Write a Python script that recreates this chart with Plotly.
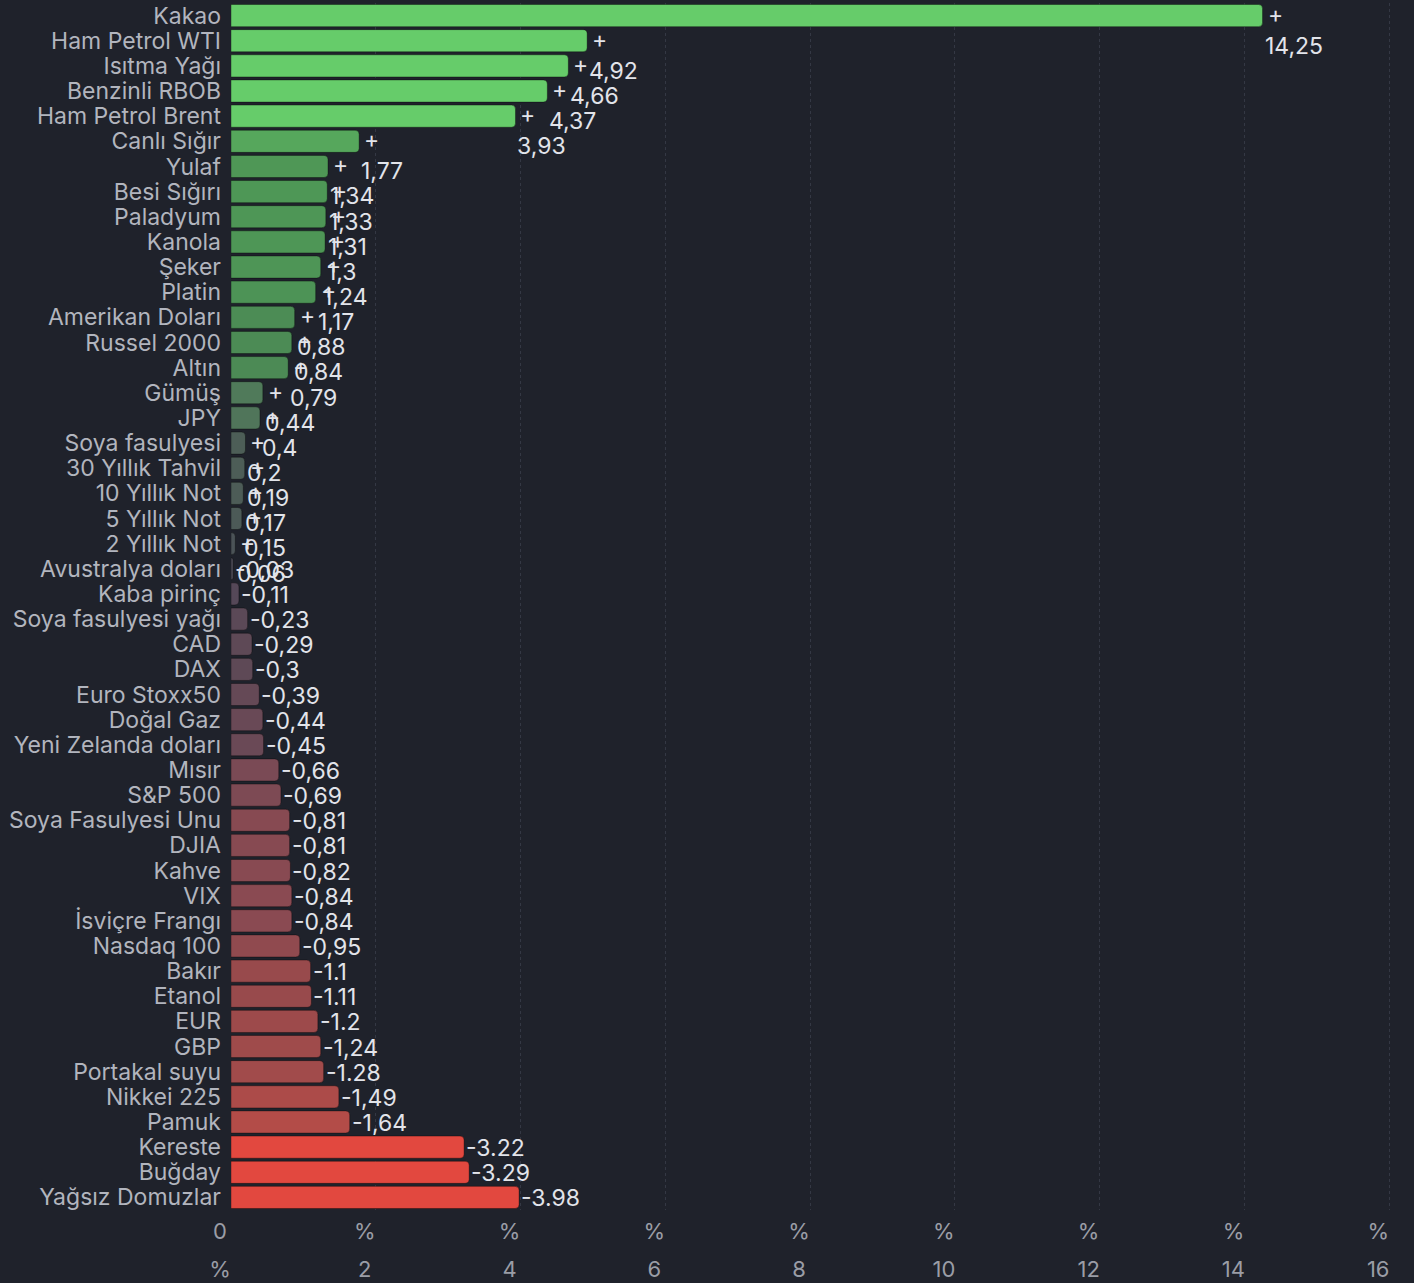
import plotly.graph_objects as go

# categories top to bottom
names = [
    "Kakao", "Ham Petrol WTI", "Isıtma Yağı", "Benzinli RBOB", "Ham Petrol Brent",
    "Canlı Sığır", "Yulaf", "Besi Sığırı", "Paladyum", "Kanola", "Şeker", "Platin",
    "Amerikan Doları", "Russel 2000", "Altın", "Gümüş", "JPY", "Soya fasulyesi",
    "30 Yıllık Tahvil", "10 Yıllık Not", "5 Yıllık Not", "2 Yıllık Not",
    "Avustralya doları", "Kaba pirinç", "Soya fasulyesi yağı", "CAD", "DAX",
    "Euro Stoxx50", "Doğal Gaz", "Yeni Zelanda doları", "Mısır", "S&P 500",
    "Soya Fasulyesi Unu", "DJIA", "Kahve", "VIX", "İsviçre Frangı", "Nasdaq 100",
    "Bakır", "Etanol", "EUR", "GBP", "Portakal suyu", "Nikkei 225", "Pamuk",
    "Kereste", "Buğday", "Yağsız Domuzlar",
]
changes = [
    14.25, 4.92, 4.66, 4.37, 3.93, 1.77, 1.34, 1.33, 1.31, 1.3, 1.24, 1.17,
    0.88, 0.84, 0.79, 0.44, 0.4, 0.2, 0.19, 0.17, 0.15, 0.06,
    -0.03, -0.11, -0.23, -0.29, -0.3, -0.39, -0.44, -0.45, -0.66, -0.69,
    -0.81, -0.81, -0.82, -0.84, -0.84, -0.95, -1.1, -1.11, -1.2, -1.24,
    -1.28, -1.49, -1.64, -3.22, -3.29, -3.98,
]
value_labels = [
    "14,25", "4,92", "4,66", "4,37", "3,93", "1,77", "1,34", "1,33", "1,31", "1,3",
    "1,24", "1,17", "0,88", "0,84", "0,79", "0,44", "0,4", "0,2", "0,19", "0,17",
    "0,15", "0,06",
    "-0,03", "-0,11", "-0,23", "-0,29", "-0,3", "-0,39", "-0,44", "-0,45", "-0,66",
    "-0,69", "-0,81", "-0,81", "-0,82", "-0,84", "-0,84", "-0,95", "-1.1", "-1.11",
    "-1.2", "-1,24", "-1.28", "-1,49", "-1,64", "-3.22", "-3.29", "-3.98",
]
tick_vals = [0, 2, 4, 6, 8, 10, 12, 14, 16]
tick_top = ["0", "%", "%", "%", "%", "%", "%", "%", "%"]
tick_bottom = ["%", "2", "4", "6", "8", "10", "12", "14", "16"]

BG = "#1f222b"
GREEN_STOPS = [(0, (74, 78, 87)), (0.2, (77, 94, 87)), (0.44, (80, 122, 90)),
               (0.8, (76, 138, 85)), (1.3, (78, 150, 86)), (1.8, (86, 168, 92)),
               (3.0, (102, 204, 106))]
RED_STOPS = [(0, (74, 78, 87)), (0.11, (85, 72, 88)), (0.3, (94, 73, 86)),
             (0.66, (122, 74, 85)), (0.84, (138, 74, 82)), (1.1, (152, 74, 76)),
             (1.64, (179, 76, 72)), (3.0, (226, 72, 63))]


def bar_color(v):
    stops = GREEN_STOPS if v >= 0 else RED_STOPS
    a = abs(v)
    if a >= stops[-1][0]:
        c = stops[-1][1]
    else:
        for (x0, c0), (x1, c1) in zip(stops, stops[1:]):
            if x0 <= a <= x1:
                t = (a - x0) / (x1 - x0)
                c = tuple(round(p + (q - p) * t) for p, q in zip(c0, c1))
                break
    return "rgb(%d,%d,%d)" % c


fig = go.Figure()
fig.add_trace(go.Bar(
    x=[abs(v) for v in changes], y=names, orientation="h",
    marker=dict(color=[bar_color(v) for v in changes], cornerradius=4,
                line=dict(color="rgba(0,0,0,0.35)", width=1)),
    hoverinfo="skip", showlegend=False,
))
# dummy trace so the second tick row is drawn
fig.add_trace(go.Scatter(x=[0], y=[names[0]], xaxis="x2", mode="markers",
                         marker=dict(opacity=0), hoverinfo="skip", showlegend=False))

val_font = dict(family="Inter, Roboto, sans-serif", size=23, color="#e2e4ea")
for name, v, lab in zip(names, changes, value_labels):
    if v >= 0:
        fig.add_annotation(x=abs(v), y=name, text="+", showarrow=False,
                           xanchor="left", yanchor="middle", xshift=3, yshift=1,
                           font=val_font)
        fig.add_annotation(x=abs(v), y=name, text=lab, showarrow=False,
                           xanchor="left", yanchor="middle", xshift=0, yshift=-30,
                           font=val_font)
    else:
        fig.add_annotation(x=abs(v), y=name, text=lab, showarrow=False,
                           xanchor="left", yanchor="middle", xshift=0, yshift=-1,
                           font=val_font)

axis_font = dict(family="Inter, Roboto, sans-serif", size=22, color="#9a9da6")
fig.update_layout(
    width=1414, height=1283,
    margin=dict(l=231, r=19, t=3, b=73, autoexpand=False),
    paper_bgcolor=BG, plot_bgcolor=BG,
    bargap=0.12,
    xaxis=dict(range=[0, 16.08], tickvals=tick_vals, ticktext=tick_top,
               showgrid=True, gridcolor="#343844", griddash="dot", gridwidth=1,
               zeroline=False, showline=False, ticks="", tickfont=axis_font,
               ticklabelshift=-11, ticklabelstandoff=6, automargin=False,
               fixedrange=True),
    xaxis2=dict(range=[0, 16.08], overlaying="x", side="bottom", anchor="y",
                tickvals=tick_vals, ticktext=tick_bottom, showgrid=False,
                zeroline=False, showline=False, ticks="", tickfont=axis_font,
                ticklabelshift=-11, ticklabelstandoff=44, automargin=False),
    yaxis=dict(categoryorder="array", categoryarray=names,
               range=[len(names) - 0.5, -0.5],
               dtick=1, showgrid=False, zeroline=False, ticks="",
               ticklabelstandoff=9, automargin=False,
               tickfont=dict(family="Inter, Roboto, sans-serif", size=23,
                             color="#b2b5be")),
)

fig.write_html("out.html", config={"displayModeBar": False},
               post_script="document.body.style.margin='0';")
